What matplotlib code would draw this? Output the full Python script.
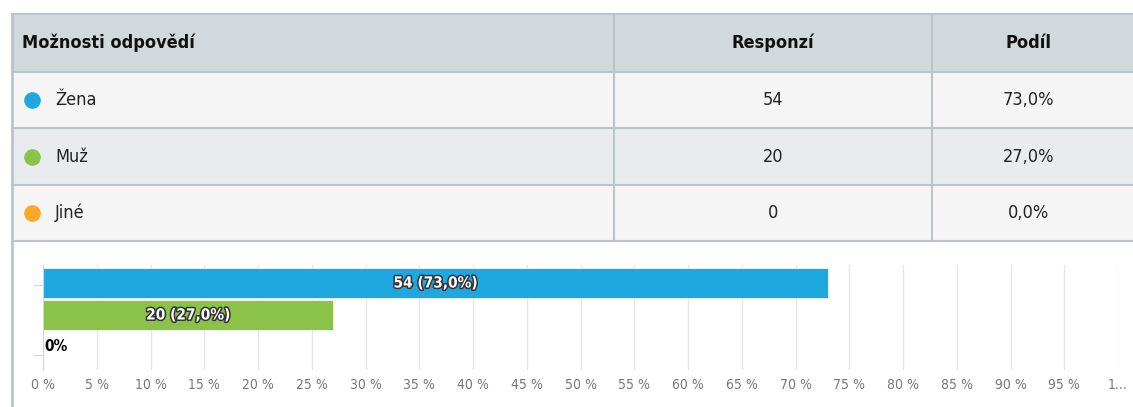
import matplotlib
matplotlib.use("Agg")
import matplotlib.pyplot as plt
import matplotlib.patheffects as pe
from matplotlib import font_manager as fm

categories = ["Žena", "Muž", "Jiné"]
responses = [54, 20, 0]
shares = [73.0, 27.0, 0.0]
colors = ["#1fa8e0", "#8bc34a", "#ffa726"]
headers = ["Možnosti odpovědí", "Responzí", "Podíl"]
xticks = list(range(0, 101, 5))
xticklabels = [f"{t} %" for t in xticks[:-1]] + ["1..."]

fonts = [(f.name, f.stretch, f.fname) for f in fm.fontManager.ttflist]
names = {f[0] for f in fonts}
if "Liberation Sans Narrow" in names:
    fam, stretch = "Liberation Sans Narrow", "normal"
elif any("DejaVuSansCondensed" in f[2] for f in fonts):
    fam, stretch = "DejaVu Sans", "condensed"
else:
    fam, stretch = "DejaVu Sans", "normal"
plt.rcParams["font.family"] = [fam, "DejaVu Sans"]
plt.rcParams["font.stretch"] = stretch

W, H = 1133, 407
fig = plt.figure(figsize=(W / 100, H / 100), dpi=100)
bg = fig.add_axes([0, 0, 1, 1])
bg.set_xlim(0, W)
bg.set_ylim(H, 0)
bg.axis("off")

def fmt(v):
    return f"{v:.1f}".replace(".", ",") + "%"

# table
left, right = 12, W
col1, col2 = 614, 932
row_y = [14, 72, 128, 185, 241]
row_bg = ["#d1d9dc", "#f5f5f5", "#e9ecee", "#f5f5f5"]
border = "#b9c5c9"
for i in range(4):
    bg.add_patch(plt.Rectangle((left, row_y[i]), right - left, row_y[i + 1] - row_y[i],
                               facecolor=row_bg[i], edgecolor="none"))
for y in row_y:
    bg.plot([left, right], [y, y], color=border, lw=1.5)
for x in (col1, col2):
    bg.plot([x, x], [row_y[0], row_y[-1]], color=border, lw=1.5)
bg.plot([left, left], [row_y[0], H], color=border, lw=2)

fs = 13
yc = (row_y[0] + row_y[1]) / 2
bg.text(22, yc, headers[0], fontsize=fs, fontweight="bold", va="center", ha="left", color="#111")
bg.text((col1 + col2) / 2, yc, headers[1], fontsize=fs, fontweight="bold", va="center", ha="center", color="#111")
bg.text((col2 + 1115) / 2 + 5, yc, headers[2], fontsize=fs, fontweight="bold", va="center", ha="center", color="#111")
for i, (c, r, s, col) in enumerate(zip(categories, responses, shares, colors)):
    yc = (row_y[i + 1] + row_y[i + 2]) / 2
    bg.scatter([32], [yc], s=120, color=col, zorder=3)
    bg.text(55, yc, c, fontsize=fs, va="center", ha="left", color="#222")
    bg.text((col1 + col2) / 2, yc, str(r), fontsize=fs, va="center", ha="center", color="#222")
    bg.text((col2 + 1115) / 2 + 5, yc, fmt(s), fontsize=fs, va="center", ha="center", color="#222")

# bar chart
x0, x1 = 43, 1118
ytop, ybot = 265, 370
ax = fig.add_axes([x0 / W, 1 - ybot / H, (x1 - x0) / W, (ybot - ytop) / H])
ax.set_xlim(0, 100)
ax.set_ylim(2.72, -0.5625)
ax.patch.set_alpha(0)
for s in ("top", "right", "bottom"):
    ax.spines[s].set_visible(False)
ax.spines["left"].set_color("#ccd6eb")
ax.set_xticks(xticks)
ax.set_xticklabels(xticklabels, fontsize=10, color="#777")
ax.tick_params(axis="x", length=0, pad=6)
ax.xaxis.grid(True, color="#e6e6e6", lw=1)
ax.set_axisbelow(True)
ax.set_yticks([0.06, 2.25])
ax.set_yticklabels([])
ax.tick_params(axis="y", length=7.5, color="#ccd6eb")

ypos = list(range(len(categories)))
ax.barh(ypos, shares, height=0.92, color=colors, edgecolor="white", lw=0.5)
for y, r, s in zip(ypos, responses, shares):
    if r > 0:
        t = ax.text(s / 2, y, f"{r} ({fmt(s)})", ha="center", va="center", fontsize=11,
                    fontweight="bold", color="white")
        t.set_path_effects([pe.withStroke(linewidth=2.2, foreground="#333")])
    else:
        ax.text(0.1, y, f"{int(s)}%", ha="left", va="center", fontsize=11,
                fontweight="bold", color="black")

fig.savefig("out.png", dpi=100)
